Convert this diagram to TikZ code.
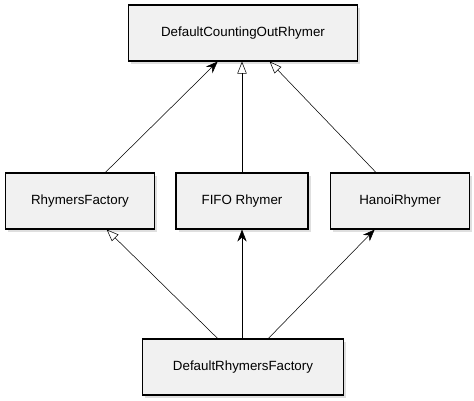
\documentclass[tikz,border=0pt]{standalone}
\usepackage{fontspec}
\setmainfont{Liberation Sans}
\usetikzlibrary{arrows.meta}
\usetikzlibrary{shadows}

\definecolor{boxfill}{HTML}{F1F1F1}

\begin{document}
\begin{tikzpicture}
[x=0.75pt,y=-0.75pt,thin,%
  every node/.style={shape=rectangle,draw,fill=boxfill,line width=0.8pt,
    minimum height=42pt,font=\fontsize{10}{12}\selectfont,
    drop shadow={shadow xshift=2pt,shadow yshift=-2pt,opacity=0.25}},
  extends/.style={-{Triangle[open,length=9pt,width=7pt]}},
  uses/.style={-{Stealth[length=9pt,width=7pt,inset=3pt]}}]
\useasboundingbox (0,0) rectangle (474,400);
\node[minimum width=172pt] (rhymer) at (243,33) {DefaultCountingOutRhymer};
\node[minimum width=112pt] (factory) at (80,201) {RhymersFactory};
\node[minimum width=99pt] (fifo) at (242,201) {FIFO Rhymer};
\node[minimum width=104pt] (hanoi) at (400,201) {HanoiRhymer};
\node[minimum width=151pt] (deffactory) at (243,367) {DefaultRhymersFactory};

\draw[uses] ([xshift=19pt]factory.north) -- ([xshift=-19pt]rhymer.south);
\draw[extends] (fifo.north) -- (fifo.north |- rhymer.south);
\draw[extends] ([xshift=-18pt]hanoi.north) -- ([xshift=20pt]rhymer.south);
\draw[extends] ([xshift=-19pt]deffactory.north) -- ([xshift=20pt]factory.south);
\draw[uses] (deffactory.north -| fifo.south) -- (fifo.south);
\draw[uses] ([xshift=19pt]deffactory.north) -- ([xshift=-19pt]hanoi.south);
\end{tikzpicture}
\end{document}
